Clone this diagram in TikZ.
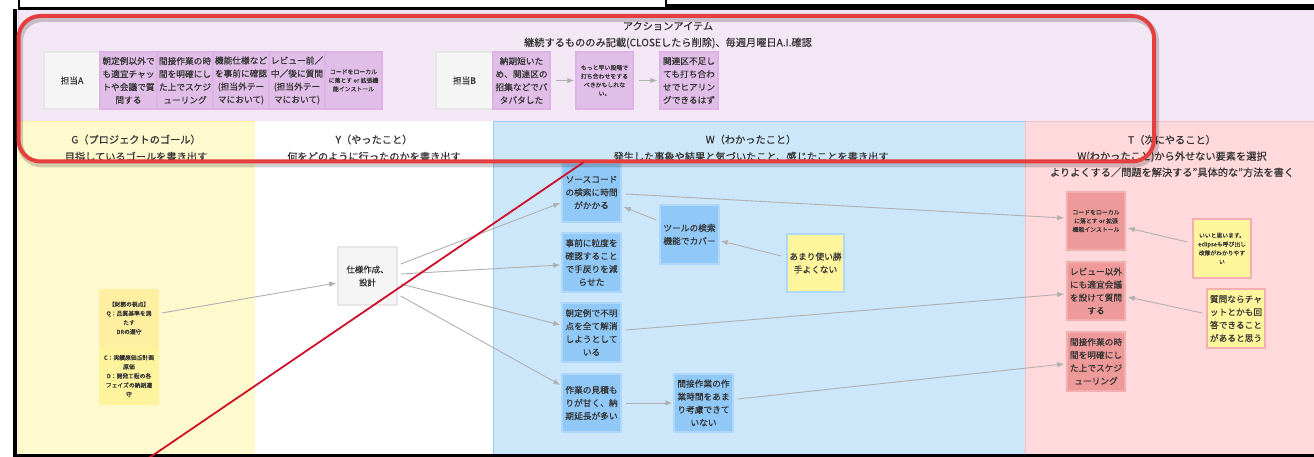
\documentclass[tikz,border=0pt]{standalone}
\usepackage{fontspec}
\setmainfont{Noto Sans CJK JP}[UprightFeatures={FakeBold=0.35}]
\usetikzlibrary{arrows.meta}
\newcommand\myfs[2]{\fontsize{#1}{#2}\selectfont}
\definecolor{txt}{HTML}{333333}
\definecolor{actfill}{HTML}{F3E6F5}
\definecolor{actline}{HTML}{E3C3EA}
\definecolor{gfill}{HTML}{FFF9CE}
\definecolor{gline}{HTML}{FFF1A6}
\definecolor{wfill}{HTML}{CCE6FA}
\definecolor{wline}{HTML}{9ECDF4}
\definecolor{tfill}{HTML}{FFD9DC}
\definecolor{tline}{HTML}{F7BFC3}
\definecolor{bfill}{HTML}{90C9F8}
\definecolor{bline}{HTML}{AED7F9}
\definecolor{pfill}{HTML}{EF9A9A}
\definecolor{pline}{HTML}{F3AFAF}
\definecolor{vfill}{HTML}{E1BEE7}
\definecolor{vline}{HTML}{DDB3E5}
\definecolor{gyfill}{HTML}{F5F5F5}
\definecolor{gyline}{HTML}{E6E6E6}
\definecolor{yfill}{HTML}{FFF59D}
\definecolor{nfill}{HTML}{FFEFA0}
\definecolor{arrc}{HTML}{B0B0B0}
\definecolor{redbox}{HTML}{E53E3E}
\definecolor{redln}{HTML}{D0102A}
\tikzset{
  box/.style={draw, line width=1.4pt, inner sep=0pt, minimum width=58pt, minimum height=58pt, align=center, font=\myfs{8.7}{13}, text=txt},
  bluebox/.style={box, fill=bfill, draw=bline},
  pinkbox/.style={box, fill=pfill, draw=pline},
  purpbox/.style={box, fill=vfill, draw=vline, minimum width=56pt, minimum height=57pt},
  graybox/.style={box, fill=gyfill, draw=gyline},
  notebox/.style={box, fill=yfill},
  gnote/.style={box, fill=nfill, draw=none, minimum width=60pt, font=\myfs{5.8}{9.2}},
  small/.style={font=\myfs{5.9}{8.6}},
  hdr/.style={font=\myfs{10.2}{17}, text=txt, align=center, inner sep=0pt},
  arr/.style={draw=arrc, line width=0.9pt, -{Latex[length=7pt,width=5.5pt]}, arrc},
}
\begin{document}
\begin{tikzpicture}[x=1pt,y=-1pt]
\useasboundingbox (0,0) rectangle (1314,457);
\fill[white] (0,0) rectangle (1314,457);
% columns
\draw[fill=actfill, draw=actline, line width=1pt] (18,10) rectangle (1314,122);
\draw[fill=gfill, draw=gline, line width=1pt] (18,122) rectangle (255,455);
\draw[fill=white, draw=white, line width=1pt] (255,122) rectangle (493,455);
\draw[fill=wfill, draw=wline, line width=1pt] (493,122) rectangle (1025,455);
\draw[fill=tfill, draw=tline, line width=1pt] (1025,122) rectangle (1314,455);
% black frame
\draw[black, line width=2.6pt] (19,-3) rectangle (666,8.5);
\fill[black] (666,4) rectangle (1314,10);
\fill[black] (12.5,9) rectangle (16.5,457);
\fill[black] (12.5,454) rectangle (1314,457);
% headers
\node[hdr] (acttitle) at (668,26) {アクションアイテム};
\node[hdr] (actsub) at (668,43) {継続するもののみ記載(CLOSEしたら削除)、毎週月曜日A.I.確認};
\node[hdr] (hg) at (136,148) {G（プロジェクトのゴール）\\目指しているゴールを書き出す};
\node[hdr] (hy) at (374,148) {Y（やったこと）\\何をどのように行ったのかを書き出す};
\node[hdr] (hw) at (751,148) {W（わかったこと）\\発生した事象や結果と気づいたこと、感じたことを書き出す};
\node[hdr, font=\myfs{10.2}{16.2}] (ht) at (1172,156) {T（次にやること）\\W(わかったこと)から外せない要素を選択\\よりよくする／問題を解決する”具体的な”方法を書く};
% action items
\node[graybox, minimum width=56pt, minimum height=57pt] (tA) at (72,80.5) {担当A};
\node[purpbox, minimum width=57pt] (a1) at (128.5,80.5) {朝定例以外で\\も適宜チャッ\\トや会議で質\\問する};
\node[purpbox] (a2) at (185,80.5) {間接作業の時\\間を明確にし\\た上でスケジ\\ューリング};
\node[purpbox] (a3) at (241,80.5) {機能仕様など\\を事前に確認\\(担当外テー\\マにおいて)};
\node[purpbox] (a4) at (297,80.5) {レビュー前／\\中／後に質問\\(担当外テー\\マにおいて)};
\node[purpbox, minimum width=57pt, small] (a5) at (353.5,80.5) {コードをローカル\\に落とす or 拡張機\\能インストール};
\node[graybox, minimum width=57pt, minimum height=57pt] (tB) at (464.5,80.5) {担当B};
\node[purpbox, minimum width=57pt] (b1) at (521.5,80.5) {納期短いた\\め、関連区の\\招集などでバ\\タバタした};
\node[purpbox, minimum width=57pt, small] (b2) at (604.5,80.5) {もっと早い段階で\\打ち合わせをする\\べきかもしれな\\い。};
\node[purpbox, minimum width=58pt] (b3) at (689,80.5) {関連区不足し\\ても打ち合わ\\せでヒアリン\\グできるはず};
\draw[arr] ([xshift=5pt]b1.east) -- ([xshift=-1pt]b2.west);
\draw[arr] ([xshift=5pt]b2.east) -- ([xshift=-2pt]b3.west);
% G notes
\node[gnote] (g1) at (129,318) {【財務の視点】\\Q：品質基準を満\\たす\\DRの遵守};
\node[gnote, fill=yfill!80!nfill] (g2) at (129,376) {C：実績原価≦計画\\原価\\D：開発工程の各\\フェイズの納期遵\\守};
% Y
\node[graybox, minimum width=59pt, font=\myfs{8.4}{13}] (spec) at (367.5,276) {仕様作成、\\設計};
% W
\node[bluebox, minimum width=59pt, minimum height=59pt] (src) at (591.5,192.5) {ソースコード\\の検索に時間\\がかかる};
\node[bluebox, minimum width=59pt, minimum height=59pt] (pre) at (591.5,262.5) {事前に粒度を\\確認すること\\で手戻りを減\\らせた};
\node[bluebox, minimum width=59pt, minimum height=59pt] (asa) at (591.5,332.5) {朝定例で不明\\点を全て解消\\しようとして\\いる};
\node[bluebox, minimum width=59pt, minimum height=58pt] (est) at (591.5,403) {作業の見積も\\りが甘く、納\\期延長が多い};
\node[bluebox, minimum width=59pt, minimum height=59pt] (tool) at (689.5,234.5) {ツールの検索\\機能でカバー};
\node[bluebox, minimum width=59pt, minimum height=58pt] (indir) at (703.5,403) {間接作業の作\\業時間をあま\\り考慮できて\\いない};
\node[notebox, draw=bline, minimum width=57pt] (amari) at (815.5,263) {あまり使い勝\\手よくない};
% T
\node[pinkbox, small] (tcode) at (1096,221) {コードをローカル\\に落とす or 拡張\\機能インストール};
\node[pinkbox] (trev) at (1096,291) {レビュー以外\\にも適宜会議\\を設けて質問\\する};
\node[pinkbox, minimum height=59pt] (tind) at (1096,361.5) {間接作業の時\\間を明確にし\\た上でスケジ\\ューリング};
\node[notebox, draw=pline, minimum height=59pt, font=\myfs{5.8}{8.8}] (ii) at (1222,248.5) {いいと思います。\\eclipseも呼び出し\\改修がわかりやす\\い};
\node[notebox, draw=pline, minimum height=59pt] (shitsu) at (1236,318.5) {質問ならチャ\\ットとかも回\\答できること\\があると思う};
% connectors
\draw[arr] ([xshift=2pt,yshift=5pt]g1.east) -- ([xshift=-1pt,yshift=-7pt]spec.west);
\draw[arr] ([xshift=3pt,yshift=12pt]spec.east) -- ([xshift=-1pt,yshift=-10.5pt]src.west);
\draw[arr] ([xshift=3pt,yshift=2pt]spec.east) -- ([xshift=-1pt,yshift=-2.5pt]pre.west);
\draw[arr] ([xshift=3pt,yshift=-8pt]spec.east) -- ([xshift=-1pt,yshift=7.5pt]asa.west);
\draw[arr] ([xshift=3pt,yshift=-20pt]spec.east) -- ([xshift=-1pt,yshift=18pt]est.west);
\draw[arr] ([xshift=-3pt,yshift=14.5pt]tool.west) -- ([xshift=2pt,yshift=-14.5pt]src.east);
\draw[arr] ([xshift=-5pt,yshift=7pt]amari.west) -- ([xshift=1pt,yshift=-6.5pt]tool.east);
\draw[arr] ([xshift=4pt]est.east) -- ([xshift=-1pt]indir.west);
\draw[arr] ([xshift=4pt,yshift=-1.5pt]src.east) -- ([xshift=-2pt,yshift=3pt]tcode.west);
\draw[arr] ([xshift=4pt,yshift=2.5pt]asa.east) -- ([xshift=-2pt,yshift=-3pt]trev.west);
\draw[arr] ([xshift=4pt,yshift=4pt]indir.east) -- ([xshift=-2pt,yshift=-2.5pt]tind.west);
\draw[arr] ([xshift=-5pt,yshift=6.5pt]ii.west) -- ([xshift=2pt,yshift=-7pt]tcode.east);
\draw[arr] ([xshift=-4pt,yshift=5.5pt]shitsu.west) -- ([xshift=2pt,yshift=-6pt]trev.east);
% red annotations
\draw[black, opacity=0.18, line width=6pt, rounded corners=22pt] (20,19) rectangle (1156,164.5);
\draw[redbox, line width=4pt, rounded corners=22pt] (18.5,16) rectangle (1154,161.5);
\draw[redln, line width=1.8pt] (146,460) -- (584,162);
\end{tikzpicture}
\end{document}
